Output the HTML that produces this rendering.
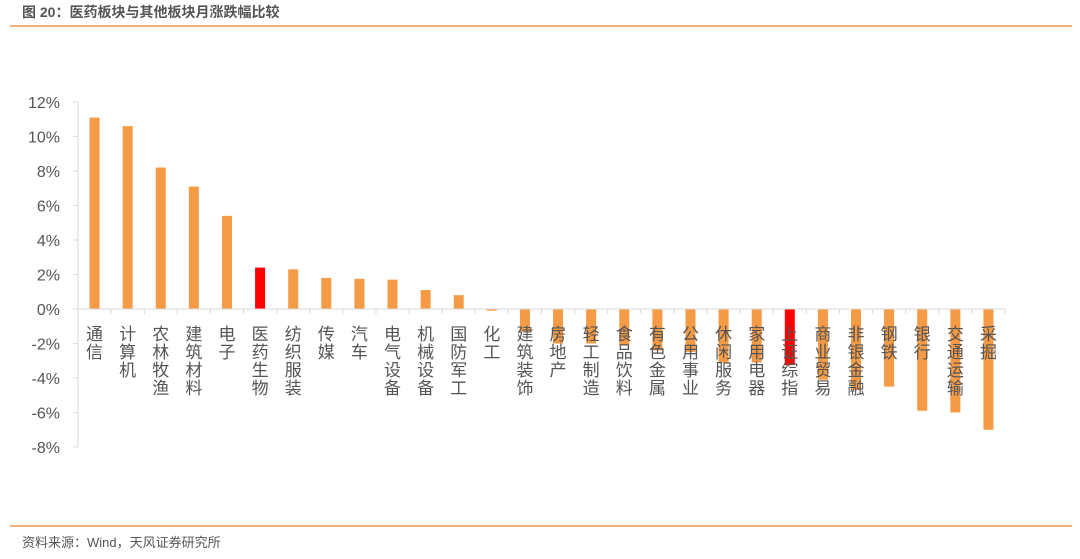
<!DOCTYPE html>
<html><head><meta charset="utf-8"><style>
body{margin:0;width:1080px;height:554px;background:#fff;overflow:hidden;font-family:"Liberation Sans","Noto Sans CJK SC",sans-serif;}
</style></head><body>
<svg width="1080" height="554" xmlns="http://www.w3.org/2000/svg">
<text x="22" y="17" font-size="14" font-weight="bold" fill="#555" font-family="Liberation Sans,Noto Sans CJK SC,sans-serif">图 20：医药板块与其他板块月涨跌幅比较</text>
<line x1="10" y1="26" x2="1072" y2="26" stroke="#e8954a" stroke-width="1.5"/>
<line x1="10" y1="526" x2="1072" y2="526" stroke="#e8954a" stroke-width="1.5"/>
<text x="22" y="547" font-size="13" fill="#555" font-family="Liberation Sans,Noto Sans CJK SC,sans-serif">资料来源：Wind，天风证券研究所</text>
<g id="plot"></g>
</svg>
<script>
const categories=["通信","计算机","农林牧渔","建筑材料","电子","医药生物","纺织服装","传媒","汽车","电气设备","机械设备","国防军工","化工","建筑装饰","房地产","轻工制造","食品饮料","有色金属","公用事业","休闲服务","家用电器","上证综指","商业贸易","非银金融","钢铁","银行","交通运输","采掘"];
const values=[11.1,10.6,8.2,7.1,5.4,2.4,2.3,1.8,1.75,1.7,1.1,0.8,-0.1,-1.3,-2.0,-2.0,-2.1,-2.4,-2.5,-3.1,-3.1,-3.25,-4.1,-4.7,-4.5,-5.9,-6.0,-7.0];
const highlights=["医药生物","上证综指"];
const yTicks=[12,10,8,6,4,2,0,-2,-4,-6,-8];
const NS="http://www.w3.org/2000/svg";
const g=document.getElementById('plot');
const x0=78,x1=1005,step=(x1-x0)/categories.length;
const y=v=>309-v*17.25;
const xc=i=>x0+step*(i+0.5);
function mk(t,a){const e=document.createElementNS(NS,t);for(const k in a)e.setAttribute(k,a[k]);g.appendChild(e);return e;}
mk('line',{x1:x0,y1:y(12),x2:x0,y2:y(-8),stroke:'#d9d9d9'});
yTicks.forEach(t=>{
 mk('line',{x1:x0-5,y1:y(t),x2:x0,y2:y(t),stroke:'#d9d9d9'});
 const tx=mk('text',{x:60,y:y(t)+6,'text-anchor':'end','font-size':16,fill:'#555'});
 tx.textContent=t+'%';
 
 
});
values.forEach((v,i)=>{
 const r=mk('rect',{x:xc(i)-5,y:Math.min(y(v),y(0)),width:10,height:Math.abs(y(v)-y(0)),fill:highlights.includes(categories[i])?'#ff0000':'#f59a45'});
 
 
});
mk('line',{x1:x0,y1:y(0),x2:x1,y2:y(0),stroke:'#d9d9d9'});
for(let i=0;i<=categories.length;i++)mk('line',{x1:x0+step*i,y1:y(0),x2:x0+step*i,y2:y(0)+5,stroke:'#d9d9d9'});
categories.forEach((c,i)=>{
 [...c].forEach((ch,j)=>{
  const t=mk('text',{x:xc(i),y:340+j*18,'text-anchor':'middle','font-size':17,fill:'#555'});
  t.textContent=ch;
  
  
 });
});
</script>
</body></html>
